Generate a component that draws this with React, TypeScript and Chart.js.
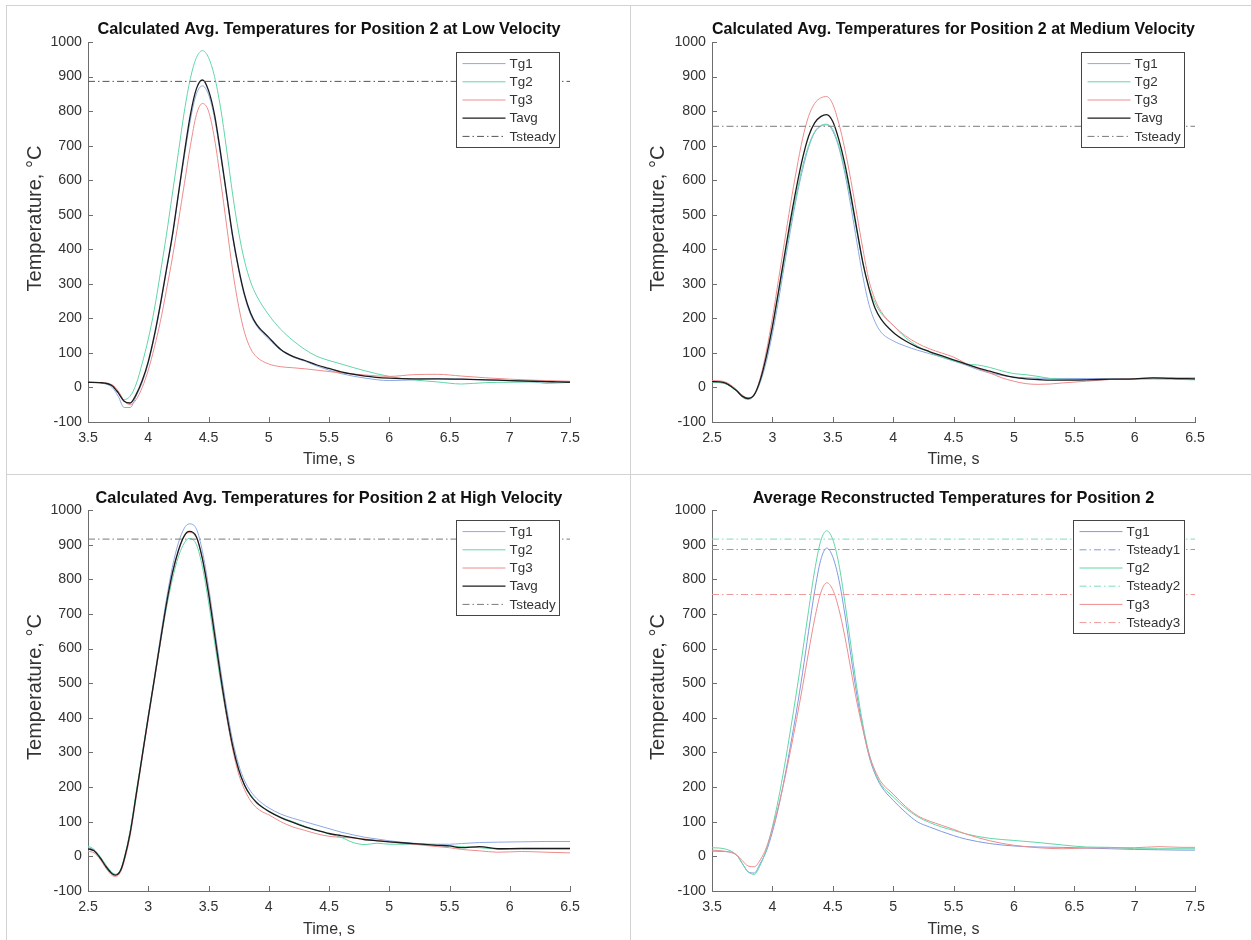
import React, { useEffect, useRef } from "react";
import { Chart, registerables } from "chart.js";

Chart.register(...registerables);

// ---------- data ----------
const yTicks = [-100, 0, 100, 200, 300, 400, 500, 600, 700, 800, 900, 1000];
const xTicksLow = [3.5, 4, 4.5, 5, 5.5, 6, 6.5, 7, 7.5];
const xTicksShift = [2.5, 3, 3.5, 4, 4.5, 5, 5.5, 6, 6.5];
const yAxisTitle = "Temperature, °C";
const xAxisTitle = "Time, s";

// Panel 1: low velocity
const t1 = [3.5, 3.6, 3.7, 3.75, 3.8, 3.85, 3.9, 3.95, 4.0, 4.05, 4.1, 4.15, 4.2, 4.25, 4.3, 4.35, 4.4, 4.45, 4.5, 4.55, 4.6, 4.65, 4.7, 4.75, 4.8, 4.85, 4.9, 5.0, 5.1, 5.2, 5.3, 5.4, 5.5, 5.6, 5.8, 6.0, 6.2, 6.4, 6.6, 6.8, 7.0, 7.2, 7.3, 7.4, 7.5];
const low_Tg1 = [15, 13, 0, -25, -58, -58, -25, 15, 70, 145, 235, 335, 435, 555, 670, 775, 850, 873, 848, 780, 672, 555, 435, 340, 263, 210, 178, 140, 108, 88, 76, 62, 50, 40, 27, 20, 22, 25, 24, 22, 20, 16, 12, 13, 15];
const low_Tg2 = [15, 14, 5, -15, -35, -25, 10, 70, 140, 225, 330, 440, 560, 680, 800, 895, 955, 975, 955, 900, 810, 690, 560, 450, 365, 305, 265, 210, 168, 136, 110, 90, 78, 68, 48, 32, 22, 16, 10, 14, 15, 16, 16, 16, 16];
const low_Tg3 = [15, 14, 8, -10, -38, -50, -35, 0, 50, 115, 190, 280, 375, 480, 590, 700, 790, 822, 800, 720, 600, 470, 340, 235, 158, 112, 88, 68, 60, 57, 54, 50, 46, 42, 36, 32, 37, 38, 33, 28, 24, 21, 20, 19, 18];
const low_Tavg = [15, 14, 5, -15, -40, -45, -20, 20, 75, 150, 240, 340, 440, 560, 680, 790, 865, 890, 860, 790, 680, 560, 440, 345, 268, 215, 182, 145, 110, 90, 78, 65, 55, 45, 33, 27, 25, 25, 24, 22, 20, 18, 17, 16, 15];
const low_Tsteady = 886;

// Panel 2: medium velocity
const t2 = [2.5, 2.6, 2.7, 2.75, 2.8, 2.85, 2.9, 2.95, 3.0, 3.05, 3.1, 3.15, 3.2, 3.25, 3.3, 3.35, 3.4, 3.45, 3.5, 3.55, 3.6, 3.65, 3.7, 3.75, 3.8, 3.85, 3.9, 4.0, 4.1, 4.2, 4.3, 4.4, 4.5, 4.6, 4.7, 4.8, 4.9, 5.0, 5.1, 5.2, 5.3, 5.4, 5.6, 5.8, 6.0, 6.15, 6.3, 6.5];
const med_Tg1 = [15, 12, -8, -25, -32, -22, 15, 75, 155, 250, 355, 455, 550, 630, 695, 738, 756, 760, 742, 695, 620, 525, 420, 320, 240, 190, 160, 135, 120, 108, 98, 88, 77, 65, 52, 42, 35, 30, 28, 27, 26, 26, 26, 25, 25, 25, 25, 25];
const med_Tg2 = [15, 12, -10, -28, -35, -22, 22, 90, 172, 270, 370, 470, 560, 640, 700, 740, 758, 762, 747, 700, 630, 545, 450, 360, 290, 245, 215, 180, 145, 120, 102, 88, 77, 68, 65, 58, 48, 40, 37, 32, 26, 24, 23, 23, 24, 25, 24, 22];
const med_Tg3 = [20, 17, -5, -22, -30, -20, 28, 105, 200, 310, 420, 530, 630, 720, 785, 822, 838, 842, 820, 765, 690, 600, 500, 400, 310, 255, 220, 180, 150, 128, 112, 100, 88, 70, 55, 42, 28, 18, 11, 9, 10, 13, 18, 23, 25, 28, 28, 28];
const med_Tavg = [17, 14, -8, -25, -32, -21, 22, 90, 176, 277, 382, 485, 580, 663, 727, 766, 784, 790, 770, 718, 647, 557, 457, 360, 287, 230, 198, 160, 135, 117, 104, 92, 80, 68, 57, 47, 37, 29, 25, 23, 21, 21, 22, 24, 25, 28, 26, 25];
const med_Tsteady = 756;

// Panel 3: high velocity
const t3 = [2.5, 2.55, 2.6, 2.65, 2.7, 2.73, 2.77, 2.8, 2.85, 2.9, 2.95, 3.0, 3.05, 3.1, 3.15, 3.2, 3.25, 3.3, 3.34, 3.4, 3.45, 3.5, 3.55, 3.6, 3.65, 3.7, 3.75, 3.8, 3.85, 3.9, 3.95, 4.0, 4.1, 4.2, 4.3, 4.4, 4.5, 4.6, 4.7, 4.8, 4.9, 5.0, 5.2, 5.4, 5.5, 5.6, 5.75, 5.9, 6.1, 6.3, 6.5];
const high_Tg1 = [25, 18, -3, -28, -48, -52, -40, -8, 70, 180, 290, 405, 515, 630, 740, 835, 905, 948, 960, 945, 880, 780, 660, 540, 430, 335, 265, 218, 188, 167, 152, 140, 122, 110, 100, 90, 80, 70, 62, 55, 50, 45, 38, 35, 35, 37, 40, 41, 42, 43, 43];
const high_Tg2 = [30, 20, 0, -25, -47, -52, -38, -5, 75, 185, 295, 405, 510, 615, 715, 800, 865, 905, 918, 900, 835, 735, 620, 505, 405, 315, 250, 205, 178, 157, 142, 130, 113, 100, 87, 75, 65, 55, 40, 34, 38, 35, 35, 32, 30, 28, 25, 21, 20, 20, 20];
const high_Tg3 = [15, 10, -8, -35, -55, -58, -45, -15, 60, 170, 285, 395, 505, 615, 725, 815, 880, 925, 935, 920, 860, 765, 645, 520, 405, 310, 238, 192, 160, 140, 128, 120, 100, 85, 75, 65, 58, 55, 53, 50, 46, 42, 35, 28, 25, 20, 16, 12, 14, 12, 10];
const high_Tavg = [22, 16, -4, -30, -50, -54, -41, -9, 68, 178, 290, 402, 510, 620, 727, 817, 883, 926, 938, 922, 858, 760, 642, 522, 413, 320, 251, 205, 175, 155, 141, 130, 112, 98, 85, 75, 66, 60, 54, 48, 45, 42, 37, 32, 30, 25, 28, 22, 23, 23, 23];
const high_Tsteady = 916;

// Panel 4: average reconstructed temperatures
const t4 = [3.5, 3.6, 3.7, 3.75, 3.8, 3.85, 3.9, 3.95, 4.0, 4.05, 4.1, 4.15, 4.2, 4.25, 4.3, 4.35, 4.4, 4.45, 4.5, 4.55, 4.6, 4.65, 4.7, 4.75, 4.8, 4.85, 4.9, 5.0, 5.1, 5.2, 5.3, 5.4, 5.5, 5.6, 5.8, 6.0, 6.2, 6.4, 6.6, 6.8, 7.0, 7.2, 7.4, 7.5];
const avg_Tg1 = [15, 14, 5, -20, -45, -48, -20, 15, 70, 140, 225, 320, 420, 530, 650, 765, 855, 890, 865, 800, 700, 580, 465, 370, 290, 238, 203, 162, 128, 100, 85, 72, 60, 50, 37, 30, 27, 26, 24, 22, 20, 19, 18, 18];
const avg_Tg2 = [25, 22, 5, -20, -45, -52, -25, 20, 85, 165, 260, 365, 475, 590, 710, 825, 910, 940, 915, 845, 735, 610, 485, 380, 298, 243, 208, 172, 140, 115, 98, 85, 75, 65, 52, 46, 40, 33, 27, 26, 22, 22, 22, 22];
const avg_Tg3 = [18, 15, 5, -12, -28, -30, -10, 25, 80, 145, 220, 305, 395, 490, 590, 685, 760, 790, 770, 715, 635, 540, 445, 365, 295, 248, 215, 180, 145, 118, 102, 90, 78, 65, 45, 32, 25, 22, 24, 25, 25, 28, 26, 26];
const avg_Tsteady1 = 886;
const avg_Tsteady2 = 916;
const avg_Tsteady3 = 756;

// ---------- styling ----------
const FONT = "'Liberation Sans', Arial, Helvetica, sans-serif";
const AXIS = "#6e6e6e";
const TXT = "#333333";
const C1 = "#8ea8e4";
const C2 = "#62d6a8";
const C3 = "#ee8c8c";
const CAVG = "#1c1c1c";
const DASHDOT = [7, 3, 1.5, 3];

const pts = (t: number[], v: number[]) => t.map((x, i) => ({ x, y: v[i] }));
const flat = (ticks: number[], y: number) => [
  { x: ticks[0], y },
  { x: ticks[ticks.length - 1], y },
];

function line(label: string, data: any[], color: string, width = 1, dash: number[] = []) {
  return {
    label,
    data,
    borderColor: color,
    backgroundColor: color,
    borderWidth: width,
    borderDash: dash,
    pointRadius: 0,
    fill: false,
    cubicInterpolationMode: "monotone",
  };
}

const tickMarks = {
  id: "tickMarks",
  afterDatasetsDraw(chart: any) {
    const { ctx, chartArea: a } = chart;
    const xs = chart.scales.x;
    const ys = chart.scales.y;
    ctx.save();
    ctx.strokeStyle = AXIS;
    ctx.lineWidth = 1;
    ctx.beginPath();
    xs.ticks.forEach((t: any) => {
      const p = Math.round(xs.getPixelForValue(t.value)) + 0.5;
      ctx.moveTo(p, a.bottom);
      ctx.lineTo(p, a.bottom - 5);
    });
    ys.ticks.forEach((t: any) => {
      const p = Math.round(ys.getPixelForValue(t.value)) + 0.5;
      ctx.moveTo(a.left, p);
      ctx.lineTo(a.left + 5, p);
    });
    ctx.stroke();
    ctx.restore();
  },
};

const yTitle = {
  id: "yTitle",
  afterDraw(chart: any, _args: any, opts: any) {
    const { ctx, chartArea: a } = chart;
    ctx.save();
    ctx.font = `${opts.size}px ${FONT}`;
    ctx.fillStyle = TXT;
    ctx.textAlign = "center";
    ctx.textBaseline = "middle";
    ctx.translate(opts.x, (a.top + a.bottom) / 2 + opts.dy);
    ctx.rotate(-Math.PI / 2);
    ctx.fillText(opts.text, 0, 0);
    ctx.restore();
  },
};

const boxLegend = {
  id: "boxLegend",
  afterDraw(chart: any) {
    const { ctx, chartArea: a } = chart;
    const items = chart.data.datasets;
    ctx.save();
    ctx.font = `13.4px ${FONT}`;
    const tw = Math.max(...items.map((d: any) => ctx.measureText(d.label).width));
    const rowH = 18.2, padL = 6, lineLen = 43, gap = 4, padR = 4, padV = 2;
    const w = Math.round(padL + lineLen + gap + tw + padR);
    const h = Math.round(items.length * rowH + 2 * padV);
    const right = Math.round(a.right - 11) + 0.5;
    const top = Math.round(a.top + 10) + 0.5;
    const left = right - w;
    ctx.fillStyle = "#ffffff";
    ctx.fillRect(left, top, w, h);
    ctx.strokeStyle = "#444444";
    ctx.lineWidth = 1;
    ctx.strokeRect(left, top, w, h);
    items.forEach((d: any, i: number) => {
      const cy = top + padV + rowH * (i + 0.5);
      ctx.beginPath();
      ctx.setLineDash(d.borderDash || []);
      ctx.strokeStyle = d.borderColor;
      ctx.lineWidth = d.borderWidth;
      ctx.moveTo(left + padL, cy);
      ctx.lineTo(left + padL + lineLen, cy);
      ctx.stroke();
      ctx.setLineDash([]);
      ctx.fillStyle = TXT;
      ctx.textBaseline = "middle";
      ctx.textAlign = "left";
      ctx.fillText(d.label, left + padL + lineLen + gap, cy + 0.5);
    });
    ctx.restore();
  },
};

type PanelProps = {
  left: number;
  top: number;
  width: number;
  height: number;
  area: { left: number; right: number; top: number; bottom: number };
  title: string;
  xTicks: number[];
  datasets: any[];
  yTitleX: number;
  xTitleY: number;
  titleY: number;
};

function Panel(p: PanelProps) {
  const ref = useRef<HTMLCanvasElement | null>(null);
  useEffect(() => {
    if (!ref.current) return;
    const titleSize = 16.3;
    const titleLH = titleSize * 1.2;
    const titlePadTop = p.titleY - titleLH / 2;
    const titlePadBottom = p.area.top - titlePadTop - titleLH;
    const xTitleLH = 16 * 1.2;
    const xScaleH = p.height - p.area.bottom;
    const n = p.datasets.length;
    const ds = p.datasets.map((d, i) => ({ ...d, order: n - i }));
    const chart = new Chart(ref.current, {
      type: "line",
      data: { datasets: ds },
      options: {
        animation: false,
        responsive: false,
        events: [],
        layout: { padding: { left: 0, top: 0, bottom: 0, right: p.width - p.area.right } },
        plugins: {
          legend: { display: false },
          tooltip: { enabled: false },
          title: {
            display: true,
            text: p.title,
            fullSize: false,
            color: "#111111",
            font: { family: FONT, size: titleSize, weight: "bold" },
            padding: { top: titlePadTop, bottom: titlePadBottom },
          },
          yTitle: { text: yAxisTitle, size: 20, x: p.yTitleX, dy: -13.5 },
        },
        scales: {
          x: {
            type: "linear",
            min: p.xTicks[0],
            max: p.xTicks[p.xTicks.length - 1],
            afterBuildTicks: (s: any) => {
              s.ticks = p.xTicks.map((v) => ({ value: v }));
            },
            afterFit: (s: any) => {
              s.height = xScaleH;
            },
            grid: { display: false, drawTicks: false },
            border: { display: true, color: AXIS, width: 1 },
            ticks: {
              padding: 7.6,
              color: TXT,
              font: { family: FONT, size: 14.2 },
              maxRotation: 0,
              autoSkip: false,
              callback: (v: any) => String(v),
            },
            title: {
              display: true,
              text: xAxisTitle,
              color: TXT,
              font: { family: FONT, size: 16 },
              padding: { top: 0, bottom: p.height - p.xTitleY - xTitleLH / 2 },
            },
          },
          y: {
            type: "linear",
            min: yTicks[0],
            max: yTicks[yTicks.length - 1],
            afterBuildTicks: (s: any) => {
              s.ticks = yTicks.map((v) => ({ value: v }));
            },
            afterFit: (s: any) => {
              s.width = p.area.left;
            },
            grid: { display: false, drawTicks: false },
            border: { display: true, color: AXIS, width: 1 },
            ticks: {
              padding: 6,
              color: TXT,
              font: { family: FONT, size: 14.2 },
              callback: (v: any) => String(v),
            },
            title: { display: false },
          },
        },
      } as any,
      plugins: [tickMarks, yTitle, boxLegend],
    });
    return () => chart.destroy();
  }, []);
  return (
    <canvas
      ref={ref}
      width={p.width}
      height={p.height}
      style={{ position: "absolute", left: p.left, top: p.top, width: p.width, height: p.height }}
    />
  );
}

export default function App() {
  const lowSets = [
    line("Tg1", pts(t1, low_Tg1), C1),
    line("Tg2", pts(t1, low_Tg2), C2),
    line("Tg3", pts(t1, low_Tg3), C3),
    line("Tavg", pts(t1, low_Tavg), CAVG, 1.3),
    line("Tsteady", flat(xTicksLow, low_Tsteady), "#555555", 1, DASHDOT),
  ];
  const medSets = [
    line("Tg1", pts(t2, med_Tg1), C1),
    line("Tg2", pts(t2, med_Tg2), C2),
    line("Tg3", pts(t2, med_Tg3), C3),
    line("Tavg", pts(t2, med_Tavg), CAVG, 1.3),
    line("Tsteady", flat(xTicksShift, med_Tsteady), "#7a7a7a", 1, DASHDOT),
  ];
  const highSets = [
    line("Tg1", pts(t3, high_Tg1), C1),
    line("Tg2", pts(t3, high_Tg2), C2),
    line("Tg3", pts(t3, high_Tg3), C3),
    line("Tavg", pts(t3, high_Tavg), CAVG, 1.3),
    line("Tsteady", flat(xTicksShift, high_Tsteady), "#7a7a7a", 1, DASHDOT),
  ];
  const avgSets = [
    line("Tg1", pts(t4, avg_Tg1), "#7f9ae0"),
    line("Tsteady1", flat(xTicksLow, avg_Tsteady1), "#7f9ae0", 1, DASHDOT),
    line("Tg2", pts(t4, avg_Tg2), C2),
    line("Tsteady2", flat(xTicksLow, avg_Tsteady2), "#7fdcb8", 1, DASHDOT),
    line("Tg3", pts(t4, avg_Tg3), C3),
    line("Tsteady3", flat(xTicksLow, avg_Tsteady3), "#ef9a9a", 1, DASHDOT),
  ];

  const sep = "#d2d2d2";
  return (
    <div style={{ position: "absolute", left: 0, top: 0, width: 1251, height: 940, background: "#ffffff", overflow: "hidden" }}>
      <div style={{ position: "absolute", left: 6, top: 5, width: 1245, height: 1, background: sep }} />
      <div style={{ position: "absolute", left: 6, top: 5, width: 1, height: 935, background: sep }} />
      <div style={{ position: "absolute", left: 630, top: 5, width: 1, height: 935, background: sep }} />
      <div style={{ position: "absolute", left: 6, top: 474, width: 1245, height: 1, background: sep }} />
      <Panel
        left={7} top={6} width={622} height={467}
        area={{ left: 81, right: 563, top: 36, bottom: 416 }}
        title="Calculated Avg. Temperatures for Position 2 at Low Velocity"
        xTicks={xTicksLow} datasets={lowSets}
        titleY={23.3} yTitleX={28} xTitleY={454}
      />
      <Panel
        left={631} top={6} width={619} height={467}
        area={{ left: 81, right: 564, top: 36, bottom: 416 }}
        title="Calculated Avg. Temperatures for Position 2 at Medium Velocity"
        xTicks={xTicksShift} datasets={medSets}
        titleY={23.3} yTitleX={27} xTitleY={454}
      />
      <Panel
        left={7} top={475} width={622} height={465}
        area={{ left: 81, right: 563, top: 35, bottom: 416 }}
        title="Calculated Avg. Temperatures for Position 2 at High Velocity"
        xTicks={xTicksShift} datasets={highSets}
        titleY={23.3} yTitleX={28} xTitleY={454.3}
      />
      <Panel
        left={631} top={475} width={619} height={465}
        area={{ left: 81, right: 564, top: 35, bottom: 416 }}
        title="Average Reconstructed Temperatures for Position 2"
        xTicks={xTicksLow} datasets={avgSets}
        titleY={23.3} yTitleX={27} xTitleY={454.3}
      />
    </div>
  );
}
